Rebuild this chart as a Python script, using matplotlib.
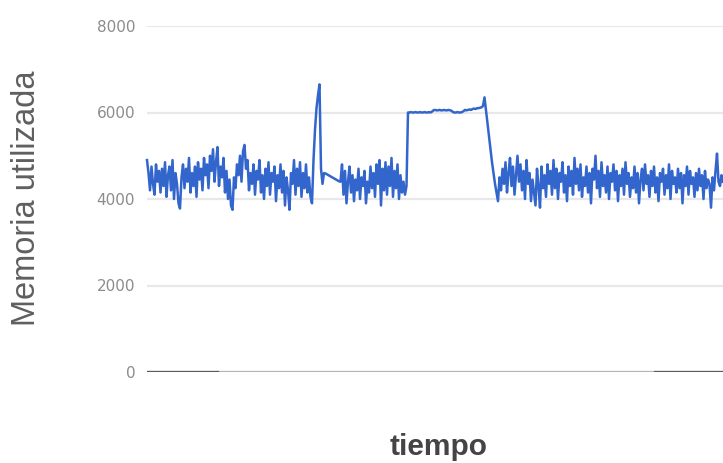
import numpy as np
import matplotlib
matplotlib.use("Agg")
import matplotlib.pyplot as plt

# Memory usage samples over time, one list per phase of the run
fase_inicial = [
    4900, 4600, 4200, 4750, 4350, 4100, 4800, 4400, 4650, 4150,
    4700, 4300, 4850, 4050, 4550, 4750, 4200, 4900, 4000, 4600,
    4350, 3900, 3780, 4500, 4800, 4250, 4700, 4400, 4950, 4150,
    4600, 4300, 4750, 4050, 4850, 4450, 4700, 4200, 4950, 4550,
    4800, 4250, 5000, 4650, 5150, 4400, 4850, 5200, 4300, 4750,
    4500, 4950, 4150, 4650, 4000, 4450, 3850, 3750, 4500, 4250,
    4800, 4550, 5000, 4400, 5100, 5250, 4700, 4900, 4200, 4600,
    4350, 4800, 4100, 4650, 4450, 4900, 4150, 4550, 4000, 4700,
    4300, 4850, 4100, 4600, 4400, 4750, 3950, 4550, 4250, 4800,
    4150, 4650, 3850, 4500, 4200, 3750, 4600, 4350, 4900, 4100,
    4700, 4300, 4850, 4050, 4600, 4250, 4800, 4150, 4500, 4050,
]
pico = [3900, 4900, 5600, 6100, 6400, 6650, 4700, 4350, 4600]
descenso_pico = [4590, 4570, 4550, 4530, 4510, 4490, 4470, 4450, 4430, 4410, 4400]
fase_media = [
    4800, 4100, 4650, 3900, 4400, 4750, 4150, 4550, 3950, 4450,
    4200, 4700, 4000, 4500, 4300, 4650, 3900, 4400, 4150, 4750,
    4250, 4600, 4050, 4800, 4350, 4900, 3850, 4700, 4200, 4850,
    4100, 4750, 4300, 4950, 4050, 4650, 4250, 4800, 4000, 4550,
    4150, 4400, 4100, 4300,
]
meseta = [
    6000, 6000, 6010, 6000, 6000, 6010, 6000, 6000, 6010, 6000, 6000, 6010,
    6000, 6000, 6010, 6000, 6020,
    6050, 6060, 6050, 6050, 6060, 6050, 6050, 6060, 6050, 6050, 6060, 6050, 6040,
    6010, 6000, 6000, 6010, 6000, 6000, 6010, 6030,
    6060, 6050, 6060, 6070, 6060, 6080, 6090, 6080, 6100, 6100, 6110, 6120, 6150,
    6350,
]
liberacion = [6050, 5750, 5450, 5150, 4850, 4600, 4350, 4150, 3950]
fase_final = [
    4500, 4200, 4700, 4350, 4850, 4150, 4600, 4950, 4300, 4750,
    4100, 4550, 5000, 4400, 4800, 4200, 4650, 4000, 4900, 4350,
    4600, 3950, 4450, 4150, 3850, 4700, 4300, 3800, 4750, 4250,
    4550, 4050, 4800, 4350, 4650, 4100, 4900, 4250, 4700, 4000,
    4600, 4400, 4850, 4150, 4550, 3950, 4750, 4300, 4650, 4100,
    4950, 4350, 4700, 4200, 4800, 4050, 4500, 4300, 4750, 4150,
    4600, 3900, 4700, 4450, 5000, 4250, 4650, 4050, 4850, 4300,
    4550, 4150, 4750, 4000, 4600, 4400, 4800, 4200, 4650, 3950,
    4550, 4300, 4700, 4100, 4850, 4350, 4600, 4050, 4500, 4250,
    4750, 4150, 4600, 3900, 4450, 4700, 4200, 4800, 4350, 4550,
    4050, 4650, 4300, 4750, 4150, 4500, 3950, 4600, 4400, 4700,
    4100, 4550, 4250, 4800, 4000, 4650, 4350, 4500, 4150, 4700,
    4250, 4600, 3900, 4550, 4300, 4750, 4100, 4650, 4350, 4500,
    4050, 4600, 4200, 4700, 4300, 4550, 4000, 4650, 4250, 4450,
    4350, 3800, 4500, 4200, 4650, 5050, 4400, 4300, 4550, 4400,
]
y_ticks = [0, 2000, 4000, 6000, 8000]
y_label = "Memoria utilizada"
x_label = "tiempo"

memoria = np.array(fase_inicial + pico + descenso_pico + fase_media
                   + meseta + liberacion + fase_final, dtype=float)
tiempo = np.arange(len(memoria))

plt.rcParams["font.family"] = ["Liberation Sans", "DejaVu Sans"]

W, H = 723, 463
fig = plt.figure(figsize=(W / 100, H / 100), dpi=100)
fig.patch.set_facecolor("white")

left, right = 147 / W, 1.0
top, bottom = 1 - 26 / H, 1 - 372 / H
ax = fig.add_axes([left, bottom, right - left, top - bottom])

ax.set_xlim(tiempo[0], tiempo[-1])
ax.set_ylim(0, 8000)
ax.set_yticks(y_ticks)
ax.set_yticklabels([str(v) for v in y_ticks])
ax.set_xticks([])
ax.tick_params(axis="y", length=0, pad=8.5, labelsize=11, labelcolor="#8c8c8c")
for lbl in ax.get_yticklabels():
    lbl.set_family(["DejaVu Sans"])
for s in ax.spines.values():
    s.set_visible(False)

for v in y_ticks[1:]:
    ax.axhline(v, color="#e8e8e8", lw=1.6, zorder=0)
# baseline
ax.axhline(0, color="#b4b4b4", lw=1.6, zorder=1)
ax.axhline(0, xmin=0, xmax=(218 - 147) / (W - 147), color="#5a5a5a", lw=1.6, zorder=2)
ax.axhline(0, xmin=(655 - 147) / (W - 147), xmax=1, color="#5a5a5a", lw=1.6, zorder=2)

ax.plot(tiempo, memoria, color="#3366cc", lw=1.8, zorder=3, clip_on=False,
        solid_joinstyle="round")

fig.text(27 / W, 1 - 198 / H, y_label, rotation=90, ha="center", va="center",
         fontsize=23.5, color="#5f5f5f")
fig.text(439 / W, 1 - 447 / H, x_label, ha="center", va="center",
         fontsize=21.5, fontweight="bold", color="#444444")

fig.savefig("out.png", dpi=100, facecolor="white")
